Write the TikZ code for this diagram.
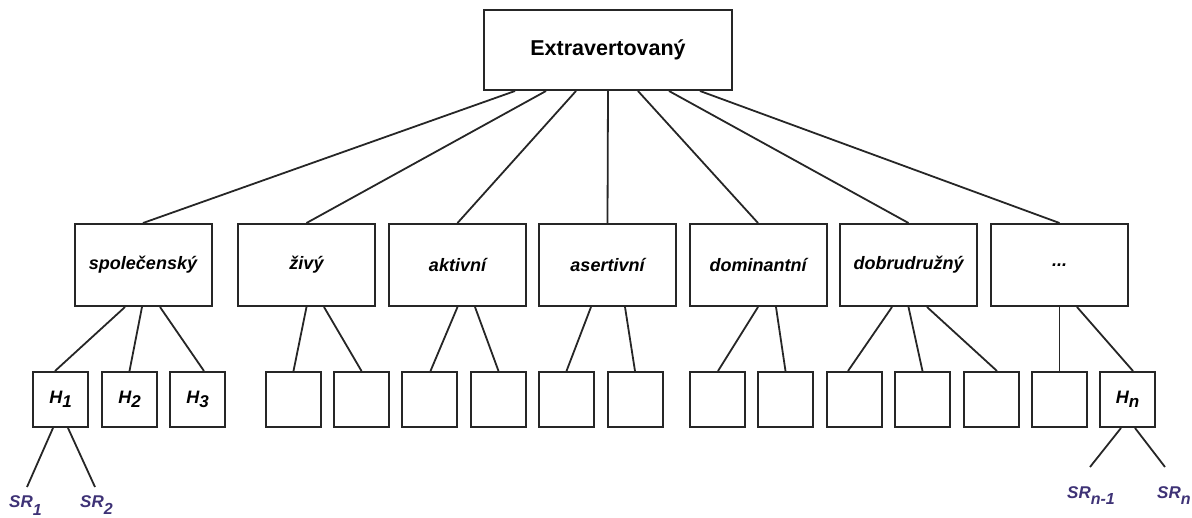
\documentclass[tikz,border=0pt]{standalone}
\usepackage{fontspec}
\setmainfont{Liberation Sans}
\usetikzlibrary{calc}
\definecolor{srcol}{RGB}{62,50,118}
\newcommand\lowsub[2][4pt]{\raisebox{-#1}{#2}}
\begin{document}
\begin{tikzpicture}[x=1pt,y=-1pt,
  box/.style={draw=black!85,line width=2pt,rectangle,inner sep=0pt,fill=white},
  topbox/.style={box,minimum width=248pt,minimum height=80pt,font=\fontsize{21.5}{25}\selectfont\bfseries},
  midbox/.style={box,minimum width=137pt,minimum height=82pt,font=\fontsize{18}{21}\selectfont\bfseries\itshape},
  leafbox/.style={box,minimum width=55pt,minimum height=55pt,font=\fontsize{18}{21}\selectfont\bfseries\itshape},
  srlabel/.style={text=srcol,inner sep=0pt,font=\fontsize{17}{20}\selectfont\bfseries\itshape},
  link/.style={draw=black!85,line width=1.8pt}]
\useasboundingbox (0,0) rectangle (1192,517);

% root
\node[topbox] (root) at (608,50) {Extravertovaný};

% facets
\node[midbox] (m1) at (143,265)    {společenský};
\node[midbox] (m2) at (306.5,265)  {živý};
\node[midbox] (m3) at (457.5,265)  {aktivní};
\node[midbox] (m4) at (607.5,265)  {asertivní};
\node[midbox] (m5) at (758,265)    {dominantní};
\node[midbox] (m6) at (908.5,265)  {dobrudružný};
\node[midbox] (m7) at (1059.5,265) {...};

% habits
\node[leafbox] (b1)  at (60.5,399.5)   {H\lowsub{\fontsize{17}{19}\selectfont 1}};
\node[leafbox] (b2)  at (129.5,399.5)  {H\lowsub{\fontsize{17}{19}\selectfont 2}};
\node[leafbox] (b3)  at (197.5,399.5)  {H\lowsub{\fontsize{17}{19}\selectfont 3}};
\node[leafbox] (b4)  at (293.5,399.5)  {};
\node[leafbox] (b5)  at (361.5,399.5)  {};
\node[leafbox] (b6)  at (429.5,399.5)  {};
\node[leafbox] (b7)  at (498.5,399.5)  {};
\node[leafbox] (b8)  at (566.5,399.5)  {};
\node[leafbox] (b9)  at (635,399.5)    {};
\node[leafbox] (b10) at (717,399.5)    {};
\node[leafbox] (b11) at (785.5,399.5)  {};
\node[leafbox] (b12) at (854.5,399.5)  {};
\node[leafbox] (b13) at (922.5,399.5)  {};
\node[leafbox] (b14) at (991,399.5)    {};
\node[leafbox] (b15) at (1059.5,399.5) {};
\node[leafbox] (b16) at (1127.5,399.5) {H\lowsub{\fontsize{17}{19}\selectfont n}};

% root to facets
\foreach \m/\dx in {m1/-93,m2/-62,m3/-32,m4/0,m5/30,m6/61,m7/92}
  \draw[link] ($(root.south)+(\dx,0)$) -- (\m.north);

% facets to habits
\foreach \m/\sx/\b/\ex in {m1/-18/b1/-5.5, m1/-1/b2/0, m1/17/b3/6.5,
    m2/0/b4/0, m2/17.5/b5/0,
    m3/0/b6/1, m3/17.5/b7/0,
    m4/-16.5/b8/0, m4/17.5/b9/0,
    m5/0/b10/1, m5/18/b11/0,
    m6/-16.5/b12/-6.5, m6/0/b13/0, m6/18.5/b14/6,
    m7/0/b15/0, m7/17.5/b16/5.5}
  \draw[link] ($(\m.south)+(\sx,0)$) -- ($(\b.north)+(\ex,0)$);

% specific responses
\coordinate (s1) at (27,487);
\coordinate (s2) at (95,487);
\coordinate (s3) at (1090,467);
\coordinate (s4) at (1165,467);
\draw[link] ($(b1.south)+(-7.5,0)$) -- (s1);
\draw[link] ($(b1.south)+(7.5,0)$) -- (s2);
\draw[link] ($(b16.south)+(-6.5,0)$) -- (s3);
\draw[link] ($(b16.south)+(7.5,0)$) -- (s4);

\node[srlabel,anchor=base west] (r1) at (9,507)    {SR\lowsub[8pt]{\fontsize{16}{18}\selectfont 1}};
\node[srlabel,anchor=base west] (r2) at (80,507)   {SR\lowsub[7pt]{\fontsize{16}{18}\selectfont 2}};
\node[srlabel,anchor=base west] (r3) at (1067,498) {SR\lowsub[6pt]{\fontsize{16}{18}\selectfont n-1}};
\node[srlabel,anchor=base west] (r4) at (1157,498) {SR\lowsub[6pt]{\fontsize{16}{18}\selectfont n}};
\end{tikzpicture}
\end{document}
